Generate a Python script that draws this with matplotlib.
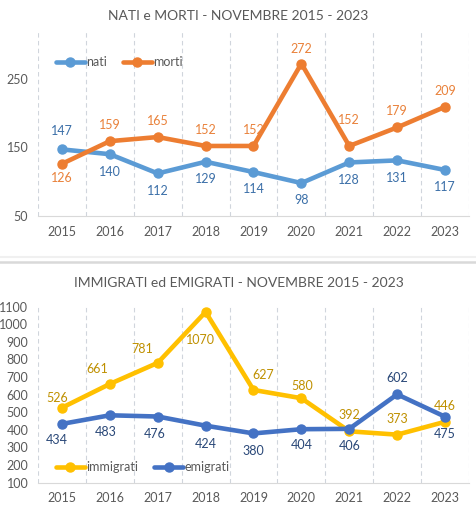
import matplotlib.pyplot as plt
from matplotlib.lines import Line2D

plt.rcParams['font.family'] = ['Lato', 'DejaVu Sans']

anni = ['2015', '2016', '2017', '2018', '2019', '2020', '2021', '2022', '2023']
nati = [147, 140, 112, 129, 114, 98, 128, 131, 117]
morti = [126, 159, 165, 152, 152, 272, 152, 179, 209]
immigrati = [526, 661, 781, 1070, 627, 580, 392, 373, 446]
emigrati = [434, 483, 476, 424, 380, 404, 406, 602, 475]

# label offsets in pixels (dx, dy), dy positive = up
off_nati = [(0, 18), (0, -18), (0, -18), (0, -17), (0, -17), (0, -17), (0, -18), (0, -18), (0, -17)]
off_morti = [(0, -14), (0, 16), (0, 16), (0, 16), (0, 16), (0, 15), (0, 26), (0, 16), (0, 16)]
off_imm = [(-5, 10), (-13, 15), (-15, 14), (-5, -28), (10, 15), (1, 12), (0, 16), (0, 16), (0, 16)]
off_emi = [(-5, -16), (-4, -17), (-3, -17), (0, -18), (0, -18), (0, -16), (0, -17), (0, 16), (0, -17)]

grey = '#595959'
x = list(range(len(anni)))

fig = plt.figure(figsize=(4.77, 5.26), dpi=100)


def setup(ax, ymin, ymax, yticks, title, title_y):
    ax.set_xlim(-0.5, len(anni) - 0.5)
    ax.set_ylim(ymin, ymax)
    ax.set_yticks(yticks)
    ax.set_xticks(x)
    ax.set_xticklabels(anni)
    for s in ['top', 'right', 'left']:
        ax.spines[s].set_visible(False)
    ax.spines['bottom'].set_color('#D9D9D9')
    ax.tick_params(axis='both', length=0, labelsize=9, colors=grey)
    ax.tick_params(axis='y', pad=7)
    ax.tick_params(axis='x', pad=7)
    for b in range(len(anni) + 1):
        ax.axvline(b - 0.5, color='#D0D5DC', lw=0.8, ls=(0, (4, 3)), zorder=0)
    fig.text(0.5, title_y, title, ha='center', va='center', fontsize=10, color=grey)


def serie(ax, vals, color, lab_color, offs, name):
    ax.plot(x, vals, color=color, lw=3.3, marker='o', ms=6.5, solid_capstyle='round',
            label=name, zorder=3)
    for i, v in enumerate(vals):
        ax.annotate(str(v), (i, v), xytext=offs[i], textcoords='offset pixels',
                    ha='center', va='center', fontsize=9, color=lab_color)


# top chart
ax1 = fig.add_axes([38 / 477, 1 - 216 / 526, 431 / 477, 184 / 526])
setup(ax1, 50, 318, [50, 150, 250], 'NATI e MORTI - NOVEMBRE 2015 - 2023', 1 - 16 / 526)
serie(ax1, nati, '#5B9BD5', '#3B6FA8', off_nati, 'nati')
serie(ax1, morti, '#ED7D31', '#E9813A', off_morti, 'morti')
ax1.legend(loc='center left', bbox_to_anchor=(0.03, 1 - (62 - 32) / 184), ncol=2, frameon=False,
           fontsize=9, handlelength=2.3, handletextpad=0.1, columnspacing=1.3,
           labelcolor=grey, borderaxespad=0)

# bottom chart
ax2 = fig.add_axes([38 / 477, 1 - 482.7 / 526, 431 / 477, 176 / 526])
setup(ax2, 100, 1100, list(range(100, 1101, 100)), 'IMMIGRATI ed EMIGRATI - NOVEMBRE 2015 - 2023',
      1 - 283 / 526)
serie(ax2, immigrati, '#FFC000', '#BF9000', off_imm, 'immigrati')
serie(ax2, emigrati, '#4472C4', '#2A4878', off_emi, 'emigrati')
ax2.legend(loc='center left', bbox_to_anchor=(0.03, (482.7 - 467) / 176), ncol=2, frameon=False,
           fontsize=9, handlelength=2.3, handletextpad=0.1, columnspacing=1.3,
           labelcolor=grey, borderaxespad=0)

# separator between the two panels
fig.add_artist(Line2D([0, 1], [1 - 257 / 526] * 2, color='#F0F0F0', lw=1.5))
fig.add_artist(Line2D([0, 1], [1 - 261.5 / 526] * 2, color='#D9D9D9', lw=1.8))

fig.savefig('out.png', dpi=100)
